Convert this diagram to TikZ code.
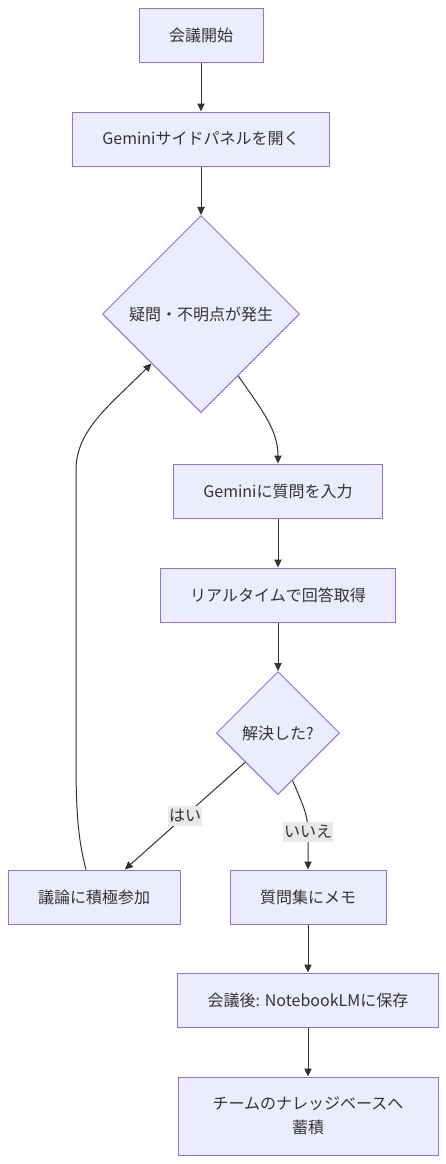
\documentclass[tikz,border=0pt]{standalone}
\usepackage{fontspec}
\setmainfont{Noto Sans CJK JP}
\usetikzlibrary{shapes.geometric,arrows.meta}

\definecolor{boxfill}{HTML}{ECECFF}
\definecolor{boxline}{HTML}{9370DB}
\definecolor{edgeline}{HTML}{333333}
\definecolor{lblfill}{HTML}{E8E8E8}

\tikzset{every picture/.style={line width=0.75pt}}
\tikzset{
  box/.style={draw=boxline, fill=boxfill, text=edgeline, inner xsep=22.5pt, inner ysep=0pt,
    minimum height=40.5pt, align=center, font=\fontsize{12}{18}\selectfont},
  decision/.style={diamond, shape aspect=1, draw=boxline, fill=boxfill, text=edgeline,
    inner sep=0pt, font=\fontsize{12}{18}\selectfont},
  flow/.style={draw=edgeline, -{Triangle[length=6pt,width=5.5pt]}},
  lbl/.style={fill=lblfill, text=edgeline, inner xsep=0.5pt, inner ysep=2.5pt, font=\fontsize{12}{14}\selectfont}
}

\begin{document}
\begin{tikzpicture}[x=0.75pt,y=0.75pt,yscale=-1,xscale=1]
\useasboundingbox (0,0) rectangle (446,1164);

% Text Node
\node [box] (start) at (201,35) {会議開始};
% Text Node
\node [box] (panel) at (201,139) {Geminiサイドパネルを開く};
% Diamond
\node [decision, minimum width=147.75pt, minimum height=147.75pt] (doubt) at (201,314) {疑問・不明点が発生};
% Text Node
\node [box] (ask) at (278,491) {Geminiに質問を入力};
% Text Node
\node [box] (answer) at (278,595) {リアルタイムで回答取得};
% Diamond
\node [decision, minimum width=92.25pt, minimum height=92.25pt] (solved) at (278,733) {解決した?};
% Text Node
\node [box] (join) at (94,897) {議論に積極参加};
% Text Node
\node [box] (memo) at (308,897) {質問集にメモ};
% Text Node
\node [box] (save) at (308,1000) {会議後: NotebookLMに保存};
% Text Node
\node [box, minimum height=58.5pt, minimum width=195pt, inner xsep=0pt] (base) at (308,1116) {チームのナレッジベースへ\\蓄積};

%Straight Lines
\draw [flow] (start) -- (panel);
\draw [flow] (panel) -- (doubt);
%Curve Lines
\draw [flow] (doubt.-59) .. controls (262,410) and (278,430) .. (ask.north);
%Straight Lines
\draw [flow] (ask) -- (answer);
\draw [flow] (answer) -- (solved);
\draw [flow] (solved) -- (join) node [lbl, midway] {はい};
%Curve Lines
\draw [flow] (solved.-73) .. controls (303,805) and (308,815) .. (308,832) node [lbl] {いいえ} -- (memo.north);
\draw [flow] ([xshift=-6pt]join.north) .. controls (78,840) and (76,810) .. (76,760) -- (76,470) .. controls (76,430) and (110,405) .. (doubt.-135);
%Straight Lines
\draw [flow] (memo) -- (save);
\draw [flow] (save) -- (base);

\end{tikzpicture}
\end{document}
